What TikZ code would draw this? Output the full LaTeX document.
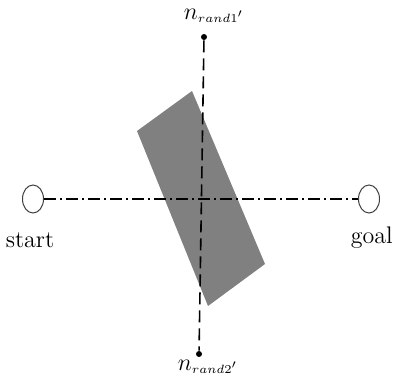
\documentclass[tikz,border=0pt]{standalone}
\usetikzlibrary{shapes.geometric}
\begin{document}
\begin{tikzpicture}[x=0.5pt,y=-0.5pt,
  endoval/.style={draw=black!75,ellipse,line width=0.5pt,minimum width=10.5pt,minimum height=14pt,inner sep=0pt,fill=white},
  lbl/.style={font=\large,inner sep=1pt},
  nlbl/.style={font=\large,inner sep=1pt},
  dashv/.style={line width=0.8pt,dash pattern=on 6pt off 3pt},
  dashh/.style={line width=0.8pt,dash pattern=on 6pt off 2pt on 1pt off 2pt},
  enddot/.style={circle,fill=black,inner sep=0pt,minimum size=3pt}]
\useasboundingbox (0,0) rectangle (395,379);
% obstacle
\fill[black!50] (192,91) -- (137,131) -- (208,306) -- (265,264) -- cycle;
% nodes
\node[endoval] (start) at (33,199) {};
\node[endoval] (goal) at (369,199) {};
\node[enddot] (top) at (204,37) {};
\node[enddot] (bot) at (199,354) {};
\draw[dashh] (start.east) -- (goal.west);
\draw[dashv] (top) -- (bot);
\node[lbl] (ls) at (30,240) {start};
\node[lbl,anchor=east] (lg) at (395,238) {goal};
\node[nlbl] (lt) at (214,16) {$n_{\scriptscriptstyle rand1'}$};
\node[nlbl] (lb) at (208,367) {$n_{\scriptscriptstyle rand2'}$};
\end{tikzpicture}
\end{document}
